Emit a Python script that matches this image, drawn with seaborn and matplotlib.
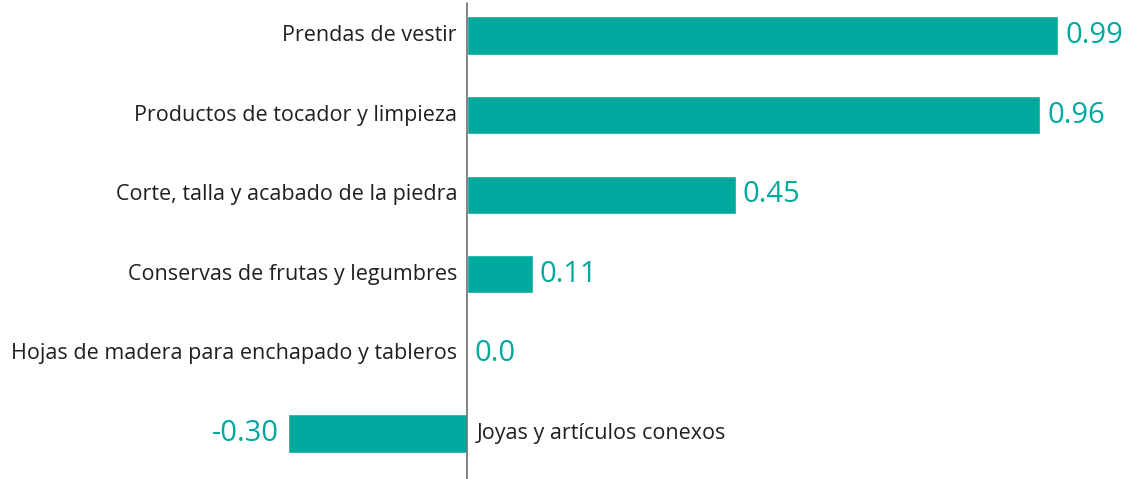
import matplotlib
matplotlib.use("Agg")
import matplotlib.pyplot as plt
import seaborn as sns
import pandas as pd

categories = [
    "Prendas de vestir",
    "Productos de tocador y limpieza",
    "Corte, talla y acabado de la piedra",
    "Conservas de frutas y legumbres",
    "Hojas de madera para enchapado y tableros",
    "Joyas y artículos conexos",
]
values = [0.99, 0.96, 0.45, 0.11, 0.0, -0.30]
value_labels = ["0.99", "0.96", "0.45", "0.11", "0.0", "-0.30"]

TEAL = "#00A99D"
DARK = "#231F20"

sns.set_theme(style="white")
plt.rcParams["font.family"] = ["Open Sans", "DejaVu Sans"]

df = pd.DataFrame({"cat": categories, "val": values})

fig = plt.figure(figsize=(11.4, 4.79), dpi=100)
ax = fig.add_axes([0, 0, 1, 1])
sns.barplot(data=df, x="val", y="cat", orient="h", color=TEAL, width=0.48,
            saturation=1, ax=ax)

px_per_unit = 597.0
ax.set_xlim(-467 / px_per_unit, (1140 - 467) / px_per_unit)
spacing = 79.6
first = 35.5
ax.set_ylim((479 - first) / spacing, -first / spacing)

for s in ax.spines.values():
    s.set_visible(False)
ax.set_xticks([])
ax.set_yticks([])
ax.set_xlabel("")
ax.set_ylabel("")
ax.axvline(0, ymin=0, ymax=1 - 3 / 479, color="#6D6E71", lw=1.2)

off_txt = 10 / px_per_unit
off_val = 7 / px_per_unit
for i, (c, v, lab) in enumerate(zip(categories, values, value_labels)):
    if v >= 0:
        ax.text(-off_txt, i, c, ha="right", va="center", fontsize=15.5, color=DARK)
        ax.text(v + off_val, i, lab, ha="left", va="center", fontsize=21, color=TEAL)
    else:
        ax.text(off_txt, i, c, ha="left", va="center", fontsize=15.5, color=DARK)
        ax.text(v - 9 / px_per_unit, i, lab, ha="right", va="center", fontsize=21, color=TEAL)

fig.savefig("out.png", dpi=100)
